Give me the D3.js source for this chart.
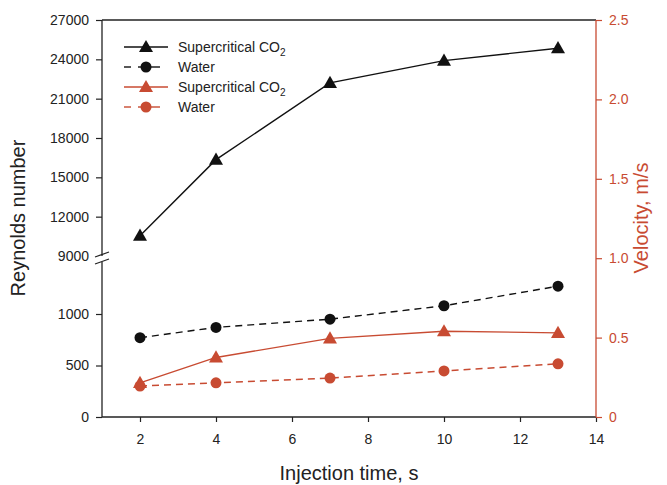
<!DOCTYPE html>
<html><head><meta charset="utf-8">
<script src="https://cdn.jsdelivr.net/npm/d3@7"></script>
<style>body{margin:0;background:#fff}svg{display:block;font-family:"Liberation Sans",Arial,sans-serif}</style>
</head><body>
<svg id="c" width="667" height="485"></svg>
<script>
const times = [2, 4, 7, 10, 13];
const reCO2 = [10550, 16350, 22200, 23900, 24850];
const reWater = [770, 870, 950, 1080, 1270];
const velCO2 = [0.215, 0.375, 0.495, 0.54, 0.53];
const velWater = [0.195, 0.215, 0.245, 0.29, 0.335];
const xTicks = [2, 4, 6, 8, 10, 12, 14];
const yLowTicks = [0, 500, 1000];
const yHighTicks = [9000, 12000, 15000, 18000, 21000, 24000, 27000];
const vTicks = [0, 0.5, 1.0, 1.5, 2.0, 2.5];
const legendLabels = ["Supercritical CO", "Water", "Supercritical CO", "Water"];

const RED = "#c84b32";
const svg = d3.select("#c");
const L = 102, R = 596, T = 20, B = 417;
const x = d3.scaleLinear().domain([1, 14]).range([L, R]);
const yLow = d3.scaleLinear().domain([0, 1500]).range([B, 262.5]);
const yHigh = d3.scaleLinear().domain([9000, 27000]).range([256, T]);
const yRe = v => v >= 5000 ? yHigh(v) : yLow(v);
const yV = d3.scaleLinear().domain([0, 2.5]).range([B, T]);

const fs = "14px";
const FF = "Liberation Sans, Arial, sans-serif";
svg.append("line").attr("x1", L).attr("x2", R).attr("y1", T).attr("y2", T).attr("stroke", "#222").attr("stroke-width", 1.3);

// x axis
const gx = svg.append("g").attr("transform", `translate(0,${B})`)
  .call(d3.axisBottom(x).tickValues(xTicks).tickSize(5).tickPadding(12).tickFormat(d3.format("d")));
gx.select(".domain").attr("stroke", "#222").attr("stroke-width", 1.3).attr("d", `M${L},0H${R}`);
gx.selectAll(".tick line").attr("stroke", "#222").attr("stroke-width", 1.2);
gx.selectAll("text").attr("font-size", fs).attr("fill", "#222").attr("font-family", FF);

// left axis lower
const gl = svg.append("g").attr("transform", `translate(${L},0)`)
  .call(d3.axisLeft(yLow).tickValues(yLowTicks).tickSize(6).tickPadding(7).tickFormat(d3.format("d")));
gl.select(".domain").attr("stroke", "#222").attr("stroke-width", 1.3).attr("d", `M0,${B}V262`);
gl.selectAll(".tick line").attr("stroke", "#222").attr("stroke-width", 1.2);
gl.selectAll("text").attr("font-size", fs).attr("fill", "#222").attr("font-family", FF);
// left axis upper
const gh = svg.append("g").attr("transform", `translate(${L},0)`)
  .call(d3.axisLeft(yHigh).tickValues(yHighTicks).tickSize(6).tickPadding(7).tickFormat(d3.format("d")));
gh.select(".domain").attr("stroke", "#222").attr("stroke-width", 1.3).attr("d", `M0,${T}V256`);
gh.selectAll(".tick line").attr("stroke", "#222").attr("stroke-width", 1.2);
gh.selectAll("text").attr("font-size", fs).attr("fill", "#222").attr("font-family", FF);
gh.selectAll(".tick").filter(d => d === 9000).select("line").remove();
// break marks
[0, 7].forEach(o => {
  svg.append("line").attr("x1", L - 7).attr("y1", 257 + o).attr("x2", L + 7).attr("y2", 252 + o)
    .attr("stroke", "#222").attr("stroke-width", 1.3);
});

// right axis
const gr = svg.append("g").attr("transform", `translate(${R},0)`)
  .call(d3.axisRight(yV).tickValues(vTicks).tickSize(6).tickPadding(7).tickFormat(d => d === 0 ? "0" : d3.format(".1f")(d)));
gr.select(".domain").attr("stroke", RED).attr("stroke-width", 1.3).attr("d", `M0,${B}V${T}`);
gr.selectAll(".tick line").attr("stroke", RED).attr("stroke-width", 1.2);
gr.selectAll("text").attr("font-size", fs).attr("fill", RED).attr("font-family", FF);

// titles
svg.append("text").attr("x", 349).attr("y", 480).attr("text-anchor", "middle").attr("font-size", "20px").attr("fill", "#222").text("Injection time, s");
svg.append("text").attr("transform", "translate(25,218) rotate(-90)").attr("text-anchor", "middle").attr("font-size", "20px").attr("fill", "#222").text("Reynolds number");
svg.append("text").attr("transform", "translate(648,218) rotate(-90)").attr("text-anchor", "middle").attr("font-size", "20px").attr("fill", RED).text("Velocity, m/s");

const tri = d3.symbol().type(d3.symbolTriangle).size(85);
const circ = d3.symbol().type(d3.symbolCircle).size(95);

function series(vals, yf, color, dashed, sym) {
  const line = d3.line().x((d, i) => x(times[i])).y(d => yf(d));
  svg.append("path").datum(vals).attr("d", line).attr("fill", "none").attr("stroke", color)
    .attr("stroke-width", 1.4).attr("stroke-dasharray", dashed ? "7,5" : null);
  svg.selectAll(null).data(vals).enter().append("path")
    .attr("d", sym).attr("fill", color)
    .attr("transform", (d, i) => `translate(${x(times[i])},${yf(d) + (sym === tri ? 1 : 0)})`);
}
series(reCO2, yRe, "#111", false, tri);
series(reWater, yRe, "#111", true, circ);
series(velCO2, yV, RED, false, tri);
series(velWater, yV, RED, true, circ);

// legend
const legY = [47, 67, 87, 107];
const legCol = ["#111", "#111", RED, RED];
const legDash = [false, true, false, true];
const legSym = [tri, circ, tri, circ];
legY.forEach((ly, i) => {
  if (legDash[i]) {
    svg.append("line").attr("x1", 124).attr("x2", 131).attr("y1", ly).attr("y2", ly).attr("stroke", legCol[i]).attr("stroke-width", 1.4);
    svg.append("line").attr("x1", 138).attr("x2", 160).attr("y1", ly).attr("y2", ly).attr("stroke", legCol[i]).attr("stroke-width", 1.4);
  } else {
    svg.append("line").attr("x1", 124).attr("x2", 168).attr("y1", ly).attr("y2", ly).attr("stroke", legCol[i]).attr("stroke-width", 1.4);
  }
  svg.append("path").attr("d", legSym[i]).attr("fill", legCol[i]).attr("transform", `translate(146,${ly + (legSym[i] === tri ? 1 : 0)})`);
  const t = svg.append("text").attr("x", 178).attr("y", ly + 5).attr("font-size", "14px").attr("fill", "#222").text(legendLabels[i]);
  if (i === 0 || i === 2) {
    t.append("tspan").text("2").attr("font-size", "10px").attr("dy", 4);
  }
});
</script>
</body></html>
